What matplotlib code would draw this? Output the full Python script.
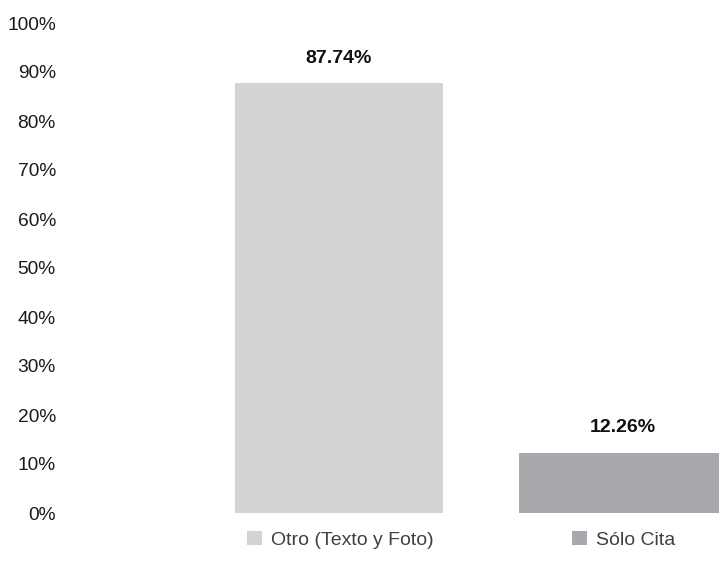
import matplotlib
matplotlib.use("Agg")
import matplotlib.pyplot as plt
from matplotlib.patches import Patch
import numpy as np

plt.rcParams['font.family'] = ['Liberation Sans', 'DejaVu Sans']

categories = ["Otro (Texto y Foto)", "Sólo Cita"]
values = [87.74, 12.26]
colors = ["#d1d3d4", "#a7a9ac"]
yticks = list(range(0, 101, 10))

W, H = 719, 564
fig = plt.figure(figsize=(W / 100, H / 100), dpi=100)
# axes box in pixels: left 60, right 719, y=0 at 513, y=100 at 23
ax = fig.add_axes([60 / W, (H - 513) / H, (W - 60) / W, (513 - 23) / H])

x = np.arange(len(values))
bw = 208 / 284
ax.bar(x, values, width=bw, color=colors, zorder=2)

for xi, v in zip(x, values):
    ax.annotate(f"{v:.2f}%", (xi, v), xytext=(0, 18), textcoords="offset points",
                ha="center", va="center", fontsize=14, fontweight="bold",
                color="#111111")

ax.set_ylim(0, 100)
ax.set_xlim((60 - 339) / 284, 1 + (719 - 623) / 284)
ax.set_yticks(yticks)
ax.set_yticklabels([f"{t}%" for t in yticks], fontsize=13.8, color="#1a1a1a")
ax.set_xticks([])
ax.tick_params(axis="y", length=0, pad=3)
for s in ax.spines.values():
    s.set_visible(False)

handles = [Patch(facecolor=c, edgecolor="none") for c in colors]
fig.legend(handles, categories, loc="center left",
           bbox_to_anchor=(247 / W, (H - 540) / H), ncol=2, frameon=False,
           fontsize=14, labelcolor="#404040", handlelength=0.75,
           handleheight=0.75, handletextpad=0.5, columnspacing=7.1,
           borderpad=0, borderaxespad=0)

fig.savefig("out.png", dpi=100)
